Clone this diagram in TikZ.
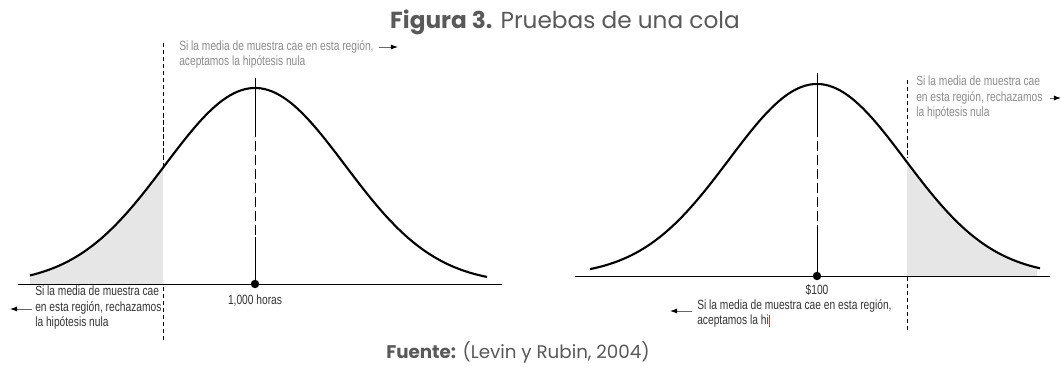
\documentclass[tikz,border=0pt]{standalone}
\usepackage{fontspec}
\setmainfont{Poppins}
\newfontfamily\narrowfont{Liberation Sans}[FakeStretch=0.765]
\usetikzlibrary{positioning,arrows.meta}
\definecolor{capgray}{HTML}{595959}
\definecolor{notegray}{HTML}{8C8C8C}
\definecolor{textgray}{HTML}{333333}
\definecolor{tailgray}{HTML}{E6E6E6}
\definecolor{cutred}{HTML}{A0524F}

\begin{document}
\begin{tikzpicture}[x=0.025cm, y=-0.025cm,
	note/.style={font=\narrowfont\fontsize{9.5}{11}\selectfont, align=left, inner sep=0pt, anchor=north west},
	bell/.style={line width=1.5pt, black},
	guide/.style={line width=0.5pt, dash pattern=on 3pt off 2pt},
	pointer/.style={-{Latex[length=5pt,width=3.5pt,color=black]}, line width=0.6pt, black!60}]
	\useasboundingbox[fill=white] (0,0) rectangle (1061,369);

	\node (title) at (565,22) [capgray, font=\fontsize{16.5}{19}\selectfont] {\textbf{Figura 3.} Pruebas de una cola};

	% left: lower tail
	\fill[tailgray] (30,284) -- plot[domain=30:163, samples=40, smooth] (\x,{284-196*exp(-((\x-255)/90)*((\x-255)/90)/2)}) -- (163,284) -- cycle;
	\draw[bell] plot[domain=30:487, samples=120, smooth] (\x,{284-196*exp(-((\x-255)/90)*((\x-255)/90)/2)});
	\draw[line width=0.6pt] (18,284) -- (502,284);
	\node (meanL) at (255,284) [circle, fill, inner sep=0pt, minimum size=6pt] {};
	\node (hours) [below=4pt of meanL, note, anchor=north, textgray] {1,000 horas};
	\draw[line width=0.6pt] (255,78) -- (255,127);
	\draw[line width=0.6pt, dash pattern=on 7pt off 3pt] (255,127) -- (255,237);
	\draw[line width=0.6pt] (255,237) -- (meanL);
	\draw[guide] (163,43) -- (163,167);
	\draw[guide] (163,287) -- (163,342);

	\node (acceptL) at (179,40) [note, notegray] {Si la media de muestra cae en esta región,\\aceptamos la hipótesis nula};
	\coordinate (acceptLtip) at (398,47);
	\draw[pointer] (acceptL.east |- acceptLtip) ++(5,0) -- (acceptLtip);
	\node (rejectL) at (35,286) [note, textgray] {Si la media de muestra cae\\en esta región, rechazamos\\la hipótesis nula};
	\coordinate (rejectLtip) at (10,309);
	\draw[pointer] (rejectL.west |- rejectLtip) ++(-3,0) -- (rejectLtip);

	% right: upper tail
	\fill[tailgray] (907,276) -- plot[domain=907:1037, samples=40, smooth] (\x,{276-192*exp(-((\x-817)/88)*((\x-817)/88)/2)}) -- (1037,276) -- cycle;
	\draw[bell] plot[domain=590:1040, samples=120, smooth] (\x,{276-192*exp(-((\x-817)/88)*((\x-817)/88)/2)});
	\draw[line width=0.6pt] (575,276) -- (1050,276);
	\node (meanR) at (817,276) [circle, fill, inner sep=0pt, minimum size=6pt] {};
	\node (dollars) [below=3pt of meanR, note, anchor=north, textgray] {\$100};
	\draw[line width=0.6pt] (817,73) -- (817,127);
	\draw[line width=0.6pt, dash pattern=on 7pt off 3pt] (817,127) -- (817,230);
	\draw[line width=0.6pt] (817,230) -- (meanR);
	\draw[guide] (907,80) -- (907,158);
	\draw[guide] (907,277) -- (907,333);

	\node (rejectR) at (916,76) [note, notegray] {Si la media de muestra cae\\en esta región, rechazamos\\la hipótesis nula};
	\coordinate (rejectRtip) at (1061,98);
	\draw[pointer] (rejectR.east |- rejectRtip) ++(7,0) -- (rejectRtip);
	\node (acceptR) at (697,299) [note, textgray] {Si la media de muestra cae en esta región,\\aceptamos la hi{\color{cutred}\rule[-1.5pt]{0.5pt}{8pt}}};
	\coordinate (acceptRtip) at (670,311);
	\draw[pointer] (acceptR.west |- acceptRtip) ++(-5,0) -- (acceptRtip);

	\node (source) at (518,352) [capgray, font=\fontsize{13}{15}\selectfont] {\textbf{Fuente:} (Levin y Rubin, 2004)};
\end{tikzpicture}
\end{document}
